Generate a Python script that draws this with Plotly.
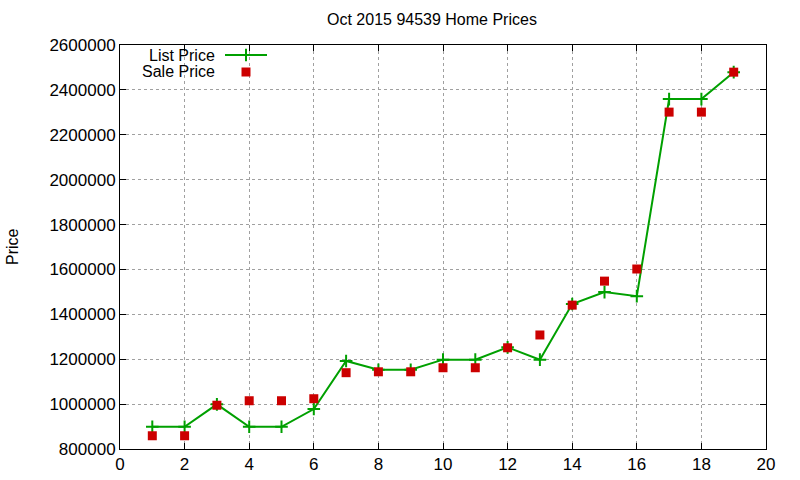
import plotly.graph_objects as go

house = list(range(1, 20))
list_price = [899000, 899000, 999000, 899000, 899000, 978000, 1192000, 1153000, 1153000,
              1198000, 1198000, 1253000, 1198000, 1446000, 1499000, 1481000, 2359000, 2359000, 2479000]
sale_price = [859000, 859000, 995000, 1015000, 1015000, 1024000, 1140000, 1144000, 1144000,
              1162000, 1162000, 1251000, 1308000, 1441000, 1548000, 1602000, 2301000, 2301000, 2479000]
x_ticks = list(range(0, 21, 2))
y_ticks = list(range(800000, 2600001, 200000))

GREEN = "#00a000"
RED = "#cc0000"
FONT = "Liberation Sans, Arial, sans-serif"

fig = go.Figure()
fig.add_trace(go.Scatter(x=house, y=list_price, mode="lines+markers", name="List Price",
                         line=dict(color=GREEN, width=2),
                         marker=dict(symbol="cross-thin", size=9, line=dict(color=GREEN, width=2))))
fig.add_trace(go.Scatter(x=house, y=sale_price, mode="markers", name="Sale Price",
                         marker=dict(symbol="square", size=9, color=RED)))

# legend samples drawn in pixel-like overlay axes
fig.add_trace(go.Scatter(x=[225, 267], y=[55, 55], mode="lines", xaxis="x2", yaxis="y2",
                         line=dict(color=GREEN, width=2), showlegend=False, hoverinfo="skip"))
fig.add_trace(go.Scatter(x=[246], y=[55], mode="markers", xaxis="x2", yaxis="y2",
                         marker=dict(symbol="cross-thin", size=9, line=dict(color=GREEN, width=2)),
                         showlegend=False, hoverinfo="skip"))
fig.add_trace(go.Scatter(x=[246], y=[72], mode="markers", xaxis="x2", yaxis="y2",
                         marker=dict(symbol="square", size=9, color=RED),
                         showlegend=False, hoverinfo="skip"))

axis_common = dict(showline=True, linecolor="black", linewidth=1, mirror="ticks",
                   ticks="inside", ticklen=6, tickcolor="black", automargin=False,
                   showgrid=True, gridcolor="#a0a0a0", griddash="dot", gridwidth=1,
                   zeroline=False, tickfont=dict(family=FONT, size=17, color="black"))

fig.update_layout(
    width=800, height=480,
    margin=dict(l=120, r=34, t=45, b=31, autoexpand=False),
    paper_bgcolor="white", plot_bgcolor="white",
    showlegend=False,
    font=dict(family=FONT, size=16, color="black"),
    xaxis=dict(range=[0, 20], tickvals=x_ticks, **axis_common),
    yaxis=dict(range=[800000, 2600000], tickvals=y_ticks, tickformat="d", **axis_common),
    xaxis2=dict(overlaying="x", range=[120, 766], visible=False),
    yaxis2=dict(overlaying="y", range=[449, 45], visible=False),
)

annotations = [
    dict(text="Oct 2015 94539 Home Prices", x=432, y=480 - 20, xanchor="center"),
    dict(text="Price", x=12, y=480 - 247, textangle=-90, xanchor="center"),
    dict(text="List Price", x=217, y=480 - 55, xanchor="right"),
    dict(text="Sale Price", x=217, y=480 - 72, xanchor="right"),
]
for a in annotations:
    a["xref"] = "paper"
    a["yref"] = "paper"
    a["yanchor"] = "middle"
    a["showarrow"] = False
    a["font"] = dict(family=FONT, size=16, color="black")
    a["x"] = (a["x"] - 120) / 646
    a["y"] = (a["y"] - 31) / 404
fig.update_layout(annotations=annotations)

fig.write_html("out.html")
